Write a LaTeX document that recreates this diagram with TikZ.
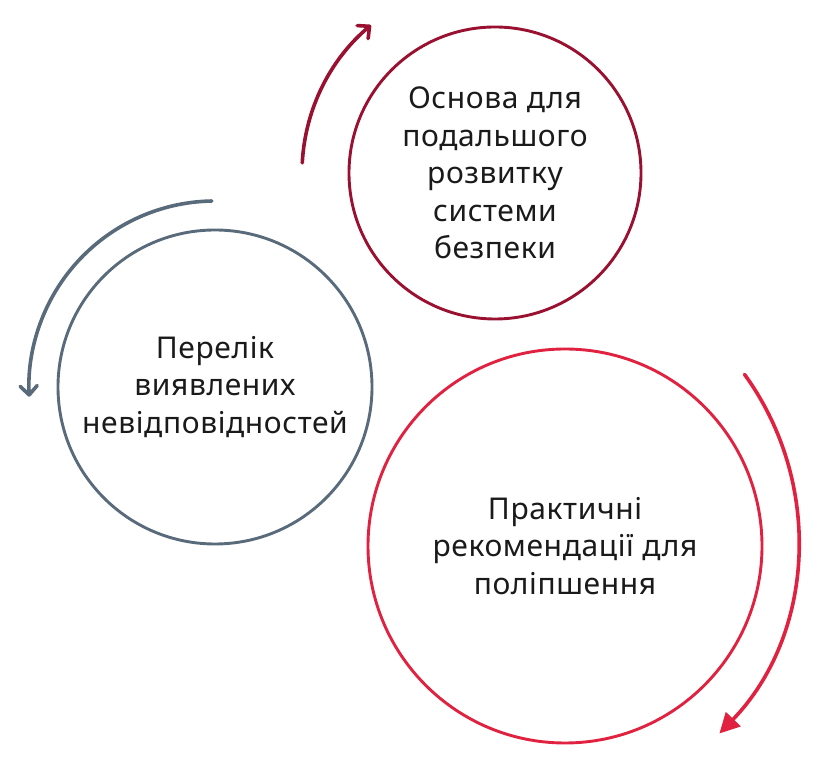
\documentclass[tikz,border=0pt]{standalone}
\usepackage{fontspec}
\setmainfont{Noto Sans}
\usetikzlibrary{positioning}
\usetikzlibrary{arrows.meta,calc}
\definecolor{vyshnia}{HTML}{9A1030}
\definecolor{hrafit}{HTML}{596A7B}
\definecolor{chervon}{HTML}{E0213F}
\definecolor{tekst}{HTML}{1A1A1A}

\begin{document}
\begin{tikzpicture}[
    x=1pt, y=1pt,
    kolo/.style={circle, draw, line width=2.9pt, align=center, text=tekst, inner sep=0pt,
    font=\fontsize{30}{37.5}\selectfont\addfontfeature{LetterSpace=2}},
    strilka/.style={line width=3.6pt, line cap=round, line join=round},
    barb/.style={-{Straight Barb[length=9pt, width=17pt, line width=3.6pt, round]}},
    trykut/.style={-{Triangle[length=20pt, width=20pt]}}
    ]
\useasboundingbox (0,0) rectangle (824,765);

\node[kolo, draw=vyshnia, minimum size=292pt] (osnova) at (495,592)
    {Основа для\\подальшого\\розвитку\\системи\\безпеки};
\node[kolo, draw=hrafit, minimum size=314pt] (perelik) at (215,378)
    {Перелік\\виявлених\\невідповідностей};
\node[kolo, draw=chervon, minimum size=394pt] (praktychni) at (565,219)
    {Практичні\\рекомендації для\\поліпшення};

%Upper arrow
\draw[strilka, barb, vyshnia] ([shift={(177:193pt)}]osnova.center)
    arc[start angle=177, end angle=130, radius=193pt];
%Left arrow
\draw[strilka, barb, hrafit] ([shift={(91:186pt)}]perelik.center)
    arc[start angle=91, end angle=183, radius=186pt];
%Lower arrow
\coordinate (vis) at ($(praktychni.center)+(-47,7)$);
\draw[strilka, trykut, chervon] ([shift={(36:280pt)}]vis)
    arc[start angle=36, end angle=-44, radius=280pt];
\end{tikzpicture}
\end{document}
